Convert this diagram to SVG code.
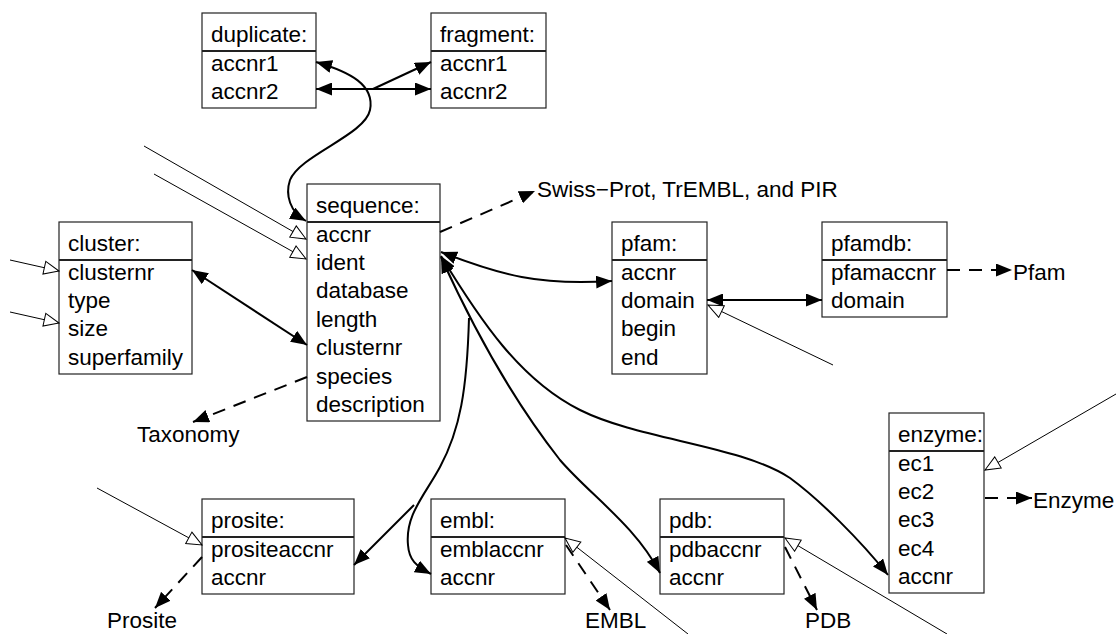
<svg xmlns="http://www.w3.org/2000/svg" width="1116" height="634" viewBox="0 0 1116 634">
  <defs>
    <style>
      .box { fill: #fff; stroke: #222; stroke-width: 1.2; }
      .sep { stroke: #222; stroke-width: 1.8; }
      text { font-family: "Liberation Sans", Arial, Helvetica, sans-serif; font-size: 22.5px; fill: #000; }
      .assoc { fill: none; stroke: #000; stroke-width: 2; }
      .ref { fill: none; stroke: #000; stroke-width: 2; stroke-dasharray: 13 9; }
      .inh { fill: none; stroke: #000; stroke-width: 1; }
    </style>
    <!-- filled arrowhead for associations and external references -->
    <marker id="arrow" viewBox="0 0 16 13" refX="16" refY="6.5" markerWidth="16" markerHeight="13" markerUnits="userSpaceOnUse" orient="auto-start-reverse">
      <path d="M0,0 L16,6.5 L0,13 z" fill="#000"/>
    </marker>
    <!-- hollow triangle for incoming links from other tables -->
    <marker id="hollow" viewBox="-1 -1 17 15" refX="15" refY="6.5" markerWidth="17" markerHeight="15" markerUnits="userSpaceOnUse" orient="auto">
      <path d="M0,0 L15,6.5 L0,13 z" fill="#fff" stroke="#000" stroke-width="1"/>
    </marker>
  </defs>

  <rect width="1116" height="634" fill="#fff"/>

  <!-- tables -->
  <g id="node-duplicate">
    <rect class="box" x="202" y="13" width="114" height="95"/>
    <line class="sep" x1="202" y1="51" x2="316" y2="51"/>
    <text x="211" y="42">duplicate:</text>
    <text x="211" y="71">accnr1</text>
    <text x="211" y="99">accnr2</text>
  </g>

  <g id="node-fragment">
    <rect class="box" x="431" y="13" width="115" height="95"/>
    <line class="sep" x1="431" y1="51" x2="546" y2="51"/>
    <text x="440" y="42">fragment:</text>
    <text x="440" y="71">accnr1</text>
    <text x="440" y="99">accnr2</text>
  </g>

  <g id="node-sequence">
    <rect class="box" x="307" y="184" width="133" height="237"/>
    <line class="sep" x1="307" y1="222" x2="440" y2="222"/>
    <text x="316" y="213">sequence:</text>
    <text x="316" y="241.5">accnr</text>
    <text x="316" y="269.9">ident</text>
    <text x="316" y="298.3">database</text>
    <text x="316" y="326.7">length</text>
    <text x="316" y="355.1">clusternr</text>
    <text x="316" y="383.5">species</text>
    <text x="316" y="411.9">description</text>
  </g>

  <g id="node-cluster">
    <rect class="box" x="59" y="222" width="133" height="152"/>
    <line class="sep" x1="59" y1="260" x2="192" y2="260"/>
    <text x="68" y="251">cluster:</text>
    <text x="68" y="279.5">clusternr</text>
    <text x="68" y="307.9">type</text>
    <text x="68" y="336.3">size</text>
    <text x="68" y="364.7">superfamily</text>
  </g>

  <g id="node-pfam">
    <rect class="box" x="612" y="222" width="95" height="152"/>
    <line class="sep" x1="612" y1="260" x2="707" y2="260"/>
    <text x="621" y="251">pfam:</text>
    <text x="621" y="279.5">accnr</text>
    <text x="621" y="307.9">domain</text>
    <text x="621" y="336.3">begin</text>
    <text x="621" y="364.7">end</text>
  </g>

  <g id="node-pfamdb">
    <rect class="box" x="822" y="222" width="125" height="95"/>
    <line class="sep" x1="822" y1="260" x2="947" y2="260"/>
    <text x="831" y="251">pfamdb:</text>
    <text x="831" y="279.5">pfamaccnr</text>
    <text x="831" y="307.9">domain</text>
  </g>

  <g id="node-enzyme">
    <rect class="box" x="889" y="413" width="95" height="180"/>
    <line class="sep" x1="889" y1="451" x2="984" y2="451"/>
    <text x="898" y="442">enzyme:</text>
    <text x="898" y="470.5">ec1</text>
    <text x="898" y="498.9">ec2</text>
    <text x="898" y="527.3">ec3</text>
    <text x="898" y="555.7">ec4</text>
    <text x="898" y="584.1">accnr</text>
  </g>

  <g id="node-prosite">
    <rect class="box" x="202" y="499" width="152" height="95"/>
    <line class="sep" x1="202" y1="537" x2="354" y2="537"/>
    <text x="211" y="528">prosite:</text>
    <text x="211" y="556.5">prositeaccnr</text>
    <text x="211" y="584.9">accnr</text>
  </g>

  <g id="node-embl">
    <rect class="box" x="431" y="499" width="134" height="95"/>
    <line class="sep" x1="431" y1="537" x2="565" y2="537"/>
    <text x="440" y="528">embl:</text>
    <text x="440" y="556.5">emblaccnr</text>
    <text x="440" y="584.9">accnr</text>
  </g>

  <g id="node-pdb">
    <rect class="box" x="660" y="499" width="124" height="95"/>
    <line class="sep" x1="660" y1="537" x2="784" y2="537"/>
    <text x="669" y="528">pdb:</text>
    <text x="669" y="556.5">pdbaccnr</text>
    <text x="669" y="584.9">accnr</text>
  </g>

  <!-- external databases -->
  <g id="ext-swissprot"><text x="537" y="197">Swiss−Prot, TrEMBL, and PIR</text></g>
  <g id="ext-taxonomy"><text x="137" y="442">Taxonomy</text></g>
  <g id="ext-pfam"><text x="1013" y="280">Pfam</text></g>
  <g id="ext-enzyme"><text x="1033" y="508">Enzyme</text></g>
  <g id="ext-prosite"><text x="107" y="628">Prosite</text></g>
  <g id="ext-embl"><text x="585" y="628">EMBL</text></g>
  <g id="ext-pdb"><text x="805" y="628">PDB</text></g>

  <!-- connectors -->
  <g id="connectors">
    <!-- duplicate / fragment -->
    <path class="assoc" d="M316,62 C350,72 375,85 370,110 C365,135 300,155 290,180 C285,195 290,212 306,221" marker-start="url(#arrow)" marker-end="url(#arrow)"/>
    <path class="assoc" d="M316,89 L431,89" marker-start="url(#arrow)" marker-end="url(#arrow)"/>
    <path class="assoc" d="M373,89 L431,62" marker-end="url(#arrow)"/>

    <!-- incoming links into sequence -->
    <path class="inh" d="M144,146 L306,239" marker-end="url(#hollow)"/>
    <path class="inh" d="M154,174 L306,259" marker-end="url(#hollow)"/>

    <!-- incoming links into cluster -->
    <path class="inh" d="M10,260 L59,271" marker-end="url(#hollow)"/>
    <path class="inh" d="M10,312 L59,323" marker-end="url(#hollow)"/>

    <!-- cluster <-> sequence -->
    <path class="assoc" d="M192,270 L307,345" marker-start="url(#arrow)" marker-end="url(#arrow)"/>

    <!-- external references of sequence -->
    <path class="ref" d="M307,377 L193,422" marker-end="url(#arrow)"/>
    <path class="ref" d="M440,232 L535,191" marker-end="url(#arrow)"/>

    <!-- sequence <-> pfam, pdb, enzyme -->
    <path class="assoc" d="M441,252 C500,275 540,286 612,281" marker-start="url(#arrow)" marker-end="url(#arrow)"/>
    <path class="assoc" d="M441,257 C465,310 505,390 560,460 C590,495 635,525 660,573" marker-start="url(#arrow)" marker-end="url(#arrow)"/>
    <path class="assoc" d="M441,256 C480,320 520,380 580,410 C640,440 740,445 790,478 C820,500 860,540 888,575" marker-start="url(#arrow)" marker-end="url(#arrow)"/>

    <!-- sequence -> embl, prosite -->
    <path class="assoc" d="M469,318 C467,390 460,430 440,467 C425,495 405,515 408,545 C409,560 416,566 431,574" marker-end="url(#arrow)"/>
    <path class="assoc" d="M414,505 L354,565" marker-end="url(#arrow)"/>

    <!-- pfam <-> pfamdb -->
    <path class="assoc" d="M707,300 L822,300" marker-start="url(#arrow)" marker-end="url(#arrow)"/>
    <path class="inh" d="M833,365 L708,305" marker-end="url(#hollow)"/>
    <path class="ref" d="M947,270 L1012,270" marker-end="url(#arrow)"/>

    <!-- enzyme -->
    <path class="inh" d="M1116,394 L985,470" marker-end="url(#hollow)"/>
    <path class="ref" d="M985,498 L1032,498" marker-end="url(#arrow)"/>

    <!-- prosite, embl, pdb -->
    <path class="inh" d="M97,488 L202,545" marker-end="url(#hollow)"/>
    <path class="ref" d="M202,557 L155,608" marker-end="url(#arrow)"/>
    <path class="inh" d="M688,634 L565,538" marker-end="url(#hollow)"/>
    <path class="ref" d="M566,545 L610,610" marker-end="url(#arrow)"/>
    <path class="inh" d="M947,634 L785,538" marker-end="url(#hollow)"/>
    <path class="ref" d="M785,547 L817,610" marker-end="url(#arrow)"/>
  </g>
</svg>
